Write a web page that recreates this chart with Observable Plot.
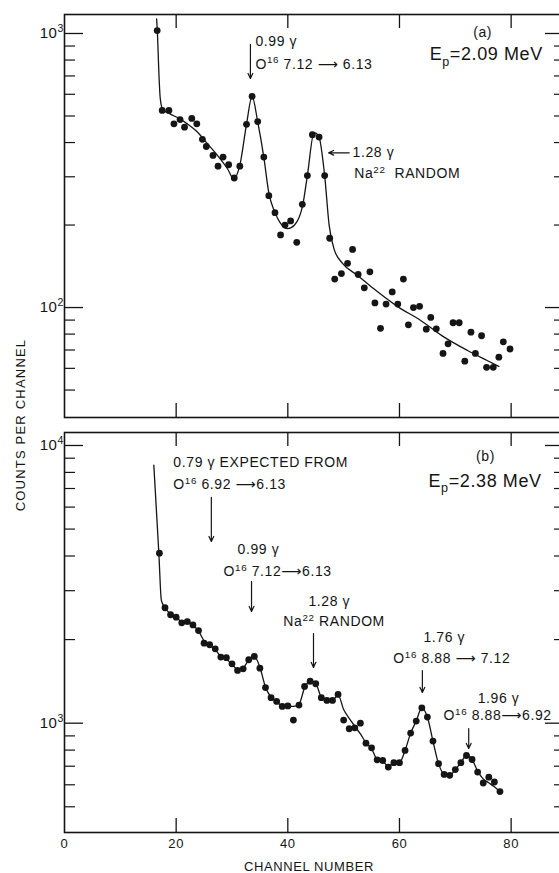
<!DOCTYPE html>
<html><head><meta charset="utf-8">
<script src="https://cdn.jsdelivr.net/npm/d3@7"></script>
<script src="https://cdn.jsdelivr.net/npm/@observablehq/plot@0.6"></script>
<style>
html,body{margin:0;padding:0;background:#fff;overflow:hidden;}
#wrap{position:relative;width:559px;height:873px;overflow:hidden;}
#wrap svg{display:block;}
#ytitle{position:absolute;left:20px;top:425px;transform:translate(-50%,-50%) rotate(-90deg);font:13px 'Liberation Sans',sans-serif;letter-spacing:1.2px;white-space:nowrap;color:#111;}
</style></head><body><div id="wrap"><div id="ytitle">COUNTS PER CHANNEL</div></div>
<script>
// ---- Panel (a): Ep = 2.09 MeV ----
const chanA = [16.6,17.5,18.7,19.6,20.7,21.5,22.8,23.7,24.7,25.4,26.6,27.5,28.4,29.4,30.4,31.4,32.6,33.6,34.6,35.7,36.6,37.7,38.7,39.5,40.5,41.6,42.6,43.5,44.4,45.6,46.6,47.5,48.4,49.6,50.7,51.6,52.6,53.7,54.7,55.6,56.6,57.6,58.7,59.7,60.7,61.6,62.5,63.6,64.8,65.6,66.6,67.8,68.7,69.6,70.7,71.7,72.8,73.6,74.7,75.6,76.8,77.8,78.6,79.8];
const countA = [1025,524,524,468,485,455,490,468,411,387,359,328,354,332,297,328,466,590,477,354,256,222,184,200,207,173,238,303,427,419,303,179,127,133,145,163,132,118,135,104,84,103,114,103,127,86.5,100,101,83.4,92,83.6,68,73.7,88,88,63.7,81.3,68,78.9,60.5,60.5,65.9,75,70.6];
const fitChanA = [16.5,16.65,16.9,17.15,17.6,18.9,20.5,22.0,23.8,25.6,27.4,29.2,30.3,31.4,32.6,33.6,34.6,35.7,36.6,37.7,38.7,40.0,41.2,42.7,43.5,44.7,45.5,46.6,47.4,48.3,49.8,52.5,55.4,59.6,63.8,68.0,72.2,75.7,77.8];
const fitCountA = [1130,1000,720,580,528,509,490,468,437,396,359,321,295,330,466,590,477,354,262,222,203,194,200,238,303,435,425,303,200,163,145,131,117,101,89.7,78,69.7,64.1,61];

// ---- Panel (b): Ep = 2.38 MeV ----
const chanB = [17,18,19,20,21,22,23,24,25,26,27,28,29,30,31,32,33,34,35,36,37,38,39,40,41,42,43,44,45,46,47,48,49,50,51,52,53,54,55,56,57,58,59,60,61,62,63,64,65,66,67,68,69,70,71,72,73,74,75,76,77,78];
const countB = [4094,2604,2457,2408,2298,2322,2258,2156,1942,1916,1853,1730,1722,1636,1549,1570,1692,1739,1578,1343,1236,1198,1149,1154,1026,1162,1356,1416,1387,1236,1208,1208,1269,1026,955,962,1000,847,815,738,734,695,721,721,798,921,1018,1136,1052,862,715,654,649,681,721,765,740,667,609,639,614,567];
const fitChanB = [16.0,16.9,17.35,18,19,20,21,22,23,24,25,26,27,28,29,30,31,32,33,34,35,36,37,38,39,40,41,42,43,44,45,46,47,48,49,50,51,52,53,54,55,56,57,58,59,60,61,62,63,64,65,66,67,68,69,70,71,72,73,74,75,76,77,78];
const fitCountB = [8500,4094,2770,2604,2470,2400,2320,2300,2250,2150,1980,1910,1840,1740,1700,1630,1560,1580,1690,1740,1590,1350,1240,1195,1155,1150,1150,1170,1340,1416,1390,1240,1208,1208,1265,1120,1040,975,915,850,810,740,730,698,718,720,798,921,1018,1136,1052,862,715,655,650,681,721,765,740,672,630,610,590,567];

// ---- ticks ----
const xTicks = [20,40,60,80];
const xTickLabels = [0,20,40,60,80];
const yMajorA = [100,1000];
const yMinorA = [50,60,70,80,90,200,300,400,500,600,700,800,900];
const yMajorB = [1000,10000];
const yMinorB = [500,600,700,800,900,2000,3000,4000,5000,6000,7000,8000,9000];

// ---- annotations (anchor in channel / counts) ----
const notesA = [
  {x:34.2, y:897, text:"0.99 γ"},
  {x:34.2, y:745, text:"O^{16} 7.12 ⟶ 6.13"},
  {x:51.6, y:353, text:"1.28 γ"},
  {x:51.9, y:296, text:"Na^{22}  RANDOM"}
];
const arrowsA = [
  {x1:33.3, y1:912, x2:33.3, y2:685},
  {x1:51.0, y1:367, x2:47.3, y2:367}
];
const notesB = [
  {x:19.5, y:8333, text:"0.79 γ EXPECTED FROM"},
  {x:19.5, y:6944, text:"O^{16} 6.92 ⟶6.13"},
  {x:31.0, y:4051, text:"0.99 γ"},
  {x:28.5, y:3376, text:"O^{16} 7.12⟶6.13"},
  {x:43.7, y:2632, text:"1.28 γ"},
  {x:39.2, y:2230, text:"Na^{22} RANDOM"},
  {x:64.3, y:1953, text:"1.76 γ"},
  {x:58.9, y:1641, text:"O^{16} 8.88 ⟶ 7.12"},
  {x:74.0, y:1187, text:"1.96 γ"},
  {x:67.9, y:1023, text:"O^{16} 8.88⟶6.92"}
];
const arrowsB = [
  {x1:26.3, y1:6500, x2:26.3, y2:4510},
  {x1:33.5, y1:3240, x2:33.5, y2:2525},
  {x1:44.6, y1:2104, x2:44.6, y2:1588},
  {x1:64.1, y1:1548, x2:64.1, y2:1290},
  {x1:72.4, y1:957, x2:72.4, y2:811}
];
const tagA = [{x:74.9, y:975, text:"(a)"}];
const energyA = [{x:65.4, y:797, text:"E_{p}=2.09 MeV"}];
const tagB = [{x:75.4, y:8758, text:"(b)"}];
const energyB = [{x:65.2, y:7117, text:"E_{p}=2.38 MeV"}];

const INK = "#151515";
const FONT = "'Liberation Sans', 'DejaVu Sans', sans-serif";
const W = 562, ML = 64;

// turn ^{..} / _{..} into raised / lowered tspans
function rich(svg) {
  d3.select(svg).selectAll("text").each(function() {
    const s = this.textContent;
    if (!/[\^_]\{/.test(s)) return;
    const el = d3.select(this);
    el.text("");
    const re = /([\^_])\{([^}]*)\}/g;
    let last = 0, m, back = null;
    const plain = (t) => {
      const ts = el.append("tspan").text(t);
      if (back) ts.attr("dy", back), back = null;
    };
    while ((m = re.exec(s))) {
      if (m.index > last) plain(s.slice(last, m.index));
      const sup = m[1] === "^";
      el.append("tspan").attr("font-size", "70%").attr("dy", sup ? "-0.55em" : "0.4em").text(m[2]);
      back = sup ? "0.385em" : "-0.28em";
      last = re.lastIndex;
    }
    if (last < s.length) plain(s.slice(last));
  });
  return svg;
}

function panel({height, mt, mb, yDomain, majors, minors, chan, count, fitChan, fitCount, notes, arrows, tag, energy, labels, bottom}) {
  const ph = height - mt - mb, pw = W - ML;
  const dots = chan.map((c, i) => ({c, v: count[i]}));
  const fit = fitChan.map((c, i) => ({c, v: fitCount[i]}));
  const marks = [
    Plot.tickY(majors, {y: d => d, insetRight: pw - 19, stroke: INK, strokeWidth: 1.3}),
    Plot.tickY(minors, {y: d => d, insetRight: pw - 11, stroke: INK, strokeWidth: 1.2}),
    Plot.tickY(majors, {y: d => d, insetLeft: pw - 17, stroke: INK, strokeWidth: 1.3}),
    Plot.tickY(minors, {y: d => d, insetLeft: pw - 8, stroke: INK, strokeWidth: 1.2}),
    Plot.tickX(xTicks, {x: d => d, insetBottom: ph - 14, stroke: INK, strokeWidth: 1.3}),
    Plot.tickX(xTicks, {x: d => d, insetTop: ph - 14, stroke: INK, strokeWidth: 1.3}),
    Plot.frame({stroke: INK, strokeWidth: 1.6}),
    Plot.line(fit, {x: "c", y: "v", curve: "monotone-x", stroke: INK, strokeWidth: 1.3}),
    Plot.dot(dots, {x: "c", y: "v", r: 3.4, fill: INK, stroke: "none"}),
    Plot.arrow(arrows, {x1: "x1", y1: "y1", x2: "x2", y2: "y2", stroke: INK, strokeWidth: 1.2, headLength: 7, headAngle: 50}),
    Plot.text(notes, {x: "x", y: "y", text: "text", textAnchor: "start", lineAnchor: "bottom", fontSize: 14, fill: INK, style: "letter-spacing:0.8px"}),
    Plot.text(tag, {x: "x", y: "y", text: "text", textAnchor: "middle", lineAnchor: "bottom", fontSize: 14, fill: INK}),
    Plot.text(energy, {x: "x", y: "y", text: "text", textAnchor: "start", lineAnchor: "bottom", fontSize: 18, fill: INK}),
    Plot.text(labels, {frameAnchor: "left", y: "v", text: d => "10^{" + Math.round(Math.log10(d.v)) + "}", textAnchor: "end", dx: -12, dy: "dy", fontSize: 15, fill: INK})
  ];
  if (bottom) {
    marks.push(Plot.axisX({ticks: xTickLabels, tickSize: 0, tickPadding: 6, fontSize: 13, label: null, fill: INK}));
    marks.push(Plot.text(["CHANNEL NUMBER"], {frameAnchor: "bottom", x: () => 43.8, text: d => d, dy: 38, lineAnchor: "bottom", fontSize: 13, fill: INK}));
  }
  const svg = Plot.plot({
    width: W, height, marginLeft: ML, marginRight: 0, marginTop: mt, marginBottom: mb,
    style: {fontFamily: FONT, maxWidth: "none", overflow: "visible", background: "transparent", letterSpacing: "0.6px", color: INK},
    x: {domain: [0, 89.2], axis: null},
    y: {type: "log", domain: yDomain, axis: null},
    marks
  });
  return rich(svg);
}

const wrap = document.getElementById("wrap");
const svgA = panel({height: 424, mt: 14, mb: 7, yDomain: [39.7, 1173], majors: yMajorA, minors: yMinorA,
  chan: chanA, count: countA, fitChan: fitChanA, fitCount: fitCountA, notes: notesA, arrows: arrowsA, tag: tagA, energy: energyA,
  labels: [{v:1000, dy:0},{v:100, dy:0}], bottom: false});
const svgB = panel({height: 449, mt: 8, mb: 41, yDomain: [404, 11137], majors: yMajorB, minors: yMinorB,
  chan: chanB, count: countB, fitChan: fitChanB, fitCount: fitCountB, notes: notesB, arrows: arrowsB, tag: tagB, energy: energyB,
  labels: [{v:10000, dy:11},{v:1000, dy:0}], bottom: true});
wrap.insertBefore(svgB, wrap.firstChild);
wrap.insertBefore(svgA, svgB);
</script></body></html>
